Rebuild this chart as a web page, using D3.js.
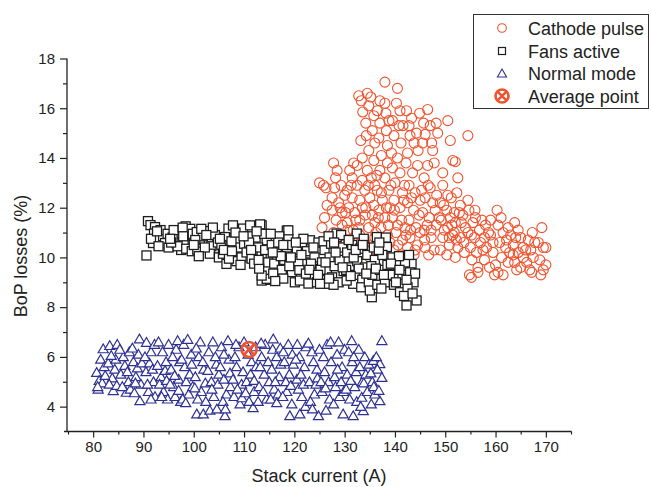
<!DOCTYPE html>
<html>
<head>
<meta charset="utf-8">
<script src="https://cdn.jsdelivr.net/npm/d3@7"></script>
<style>
  body { margin: 0; background: #fff; }
  text { font-family: "Liberation Sans", Arial, sans-serif; fill: #222; }
</style>
</head>
<body>
<svg id="chart" width="651" height="487"></svg>
<script>

// Cathode pulse (x = stack current A, y = BoP losses %)
var cathodePulse = [
  [125,13.0],[125.8,12.9],[126.3,12.8],[125.5,11.2],[126,11.6],[126.5,12.1],[125.3,10.6],
  [127.8,13.8],[128.5,13.5],[128.2,13.2],[129.3,12.9],[127.5,12.4],[128.8,12.2],[127.5,11.9],[128.3,11.5],
  [129.5,11.8],[127.8,11.0],[129,10.9],[129.5,11.3],[128.5,10.5],[130,12.5],[129.8,10.2],
  [131,13.5],[131.5,13.2],[132.5,13.7],[130.5,12.7],[131.5,12.4],[132.5,12.9],[130.8,12.0],[132,11.8],
  [133,12.3],[130.5,11.4],[131.7,11.1],[133,11.5],[131,10.7],[132.3,10.4],[133,10.9],[133.2,14.7],
  [132.8,16.5],[133.3,16.3],[133.6,15.85],[133.5,14.0],
  [134.5,16.6],[134.8,16.1],[135.2,16.45],[134.2,15.4],[135.5,15.1],[134.3,14.9],[135.8,15.7],[134.5,13.5],
  [135.3,13.2],[135.8,13.9],[134,12.7],[135,12.4],[136,12.9],[134.2,12.0],[135.5,11.7],[134.8,11.2],
  [136,11.4],[134,10.6],[135.5,10.3],[136,10.8],[135,10.0],
  [137,16.3],[136.5,15.9],[138,16.2],[138.2,15.8],[137,15.4],[138.3,15.1],[136.8,14.8],[138.5,14.5],
  [137.3,14.1],[138.5,13.8],[137,13.5],[138,13.2],[136.5,12.7],[137.5,12.3],[138.8,12.7],[136.8,11.9],
  [138,11.6],[139,12.0],[137.2,11.2],[138.5,10.9],[136.5,10.6],[137.8,10.3],[139,10.6],[138.7,11.3],[138,17.05],
  [140.5,16.8],[140.3,16.2],[141,15.9],[139.5,15.5],[140.8,15.3],[139.8,14.9],[141.2,14.6],[140.5,14.0],
  [139.5,13.6],[141,13.4],[140,13.0],[141.5,12.6],[139.8,12.3],[141,12.0],[139.5,11.6],[141.3,11.5],
  [140.2,11.0],[141.5,10.7],[139.8,10.3],[141,10.1],[142,11.2],
  [142.3,15.9],[142.8,15.3],[143,14.9],[143.8,14.6],[144.3,15.0],[142.5,14.2],[143.5,13.4],[144.5,13.7],
  [142.8,12.9],[144,12.6],[142.5,12.2],[143.7,11.9],[145,12.3],[142.8,11.5],[144.2,11.2],[143,10.8],
  [144.5,10.5],[142.5,10.4],[145,11.0],[143.8,10.1],
  [146.5,15.95],[147,15.3],[146,14.95],[147.3,14.6],[145.5,14.6],[147.5,14.3],[146.5,13.7],[147.8,13.8],
  [145.8,13.2],[147,12.8],[146,12.4],[147.5,12.2],[145.5,11.8],[146.8,11.6],[148,11.9],[145.8,11.1],
  [147.2,10.8],[146,10.4],[147.8,10.3],[148.2,11.3],[148.5,15.0],[148.2,15.4],
  [149.5,13.4],[150.5,15.5],[151,14.7],[149.5,12.9],[150.5,12.5],[149,12.2],[150.3,11.9],[151.2,12.4],
  [149.2,11.5],[150.5,11.2],[151,11.6],[149.5,10.8],[150.8,10.5],[149,10.3],[150.3,10.1],[151.5,10.9],
  [151.5,13.9],[152,13.85],[152.5,13.2],[152.8,11.8],[152,11.4],[153.5,11.7],[151.8,11.0],[153,10.8],
  [154,11.2],[152.5,10.4],[153.8,10.2],[152,10.0],[154.5,12.3],[153,12.1],[154.5,14.9],
  [154.7,11.9],[155.5,11.4],[156,11.6],[154.5,11.0],[155.8,10.8],[156.8,11.1],[155,10.4],[156.2,10.2],
  [155.3,9.9],[154.8,9.3],[155.2,9.2],[156.5,9.6],[157,10.6],[157.3,11.5],[156.5,9.4],
  [158,11.3],[159,11.5],[157.8,10.8],[159,10.9],[158.2,10.4],[159.5,10.2],[157.8,9.9],[158.8,9.6],
  [159.8,9.3],[160,9.7],[160.3,11.9],[159.5,10.6],
  [160.5,11.3],[161.5,11.0],[162.5,11.2],[160.8,10.6],[162,10.4],[161.2,10.0],[162.5,9.8],[160.5,9.4],
  [161.5,9.3],[163,10.9],[162.8,10.2],
  [163.8,11.4],[164.5,11.1],[165,10.8],[163.5,10.5],[164.5,10.2],[165.5,10.4],[163.8,9.8],[165,9.6],
  [164.2,9.5],[165.5,10.0],[163.5,10.1],
  [166.5,10.7],[167,10.3],[166.2,9.8],[167.5,10.0],[166.8,9.5],[167.8,10.6],[167.2,9.4],
  [169.2,11.2],[168.5,10.6],[169.5,10.4],[170,9.7],[169,9.3],[169.5,9.5],[168.8,9.9],[170,10.4],
  [130.2,11.8],[131.3,12.9],[132.2,11.5],[133.5,12.0],[134.7,12.9],[135.8,12.1],[136.2,11.0],[137.3,12.6],
  [138.3,12.0],[139.2,12.9],[140.5,11.3],[141.8,12.3],[142.2,10.9],[143.3,12.4],[144.8,11.7],[145.3,12.7],
  [146.4,11.3],[147.2,11.1],[148.3,12.5],[149.8,11.1],[150.8,10.8],[151.3,11.3],[152.3,12.6],[153.2,11.4],
  [146.7,10.1],[144,10.3],[140.6,10.5],[137.3,10.5],[134.4,10.3],[131.4,10.2],[129.2,10.5],[128,12.8],
  [131.8,13.8],[133.5,13.1],[136.4,13.3],[139.3,14.2],[142.2,13.8],[144.6,14.3],[134.8,14.3],[136,14.6],
  [138.8,15.5],[141.6,15.3],[143.3,15.6],[144.9,15.8],[145.7,15.4],
  [132.8,11.2],[134.1,11.7],[136.7,11.6],[139.9,11.9],[143.1,11.1],[145.9,10.7],[148.8,11.6],[151.8,11.8],
  [153.7,10.6],[155.9,11.9],[157.5,10.3],[158.6,11.0],[161.1,11.6],[162.2,10.7],[164,10.8],[166,10.3],
  [167.3,11.0],[130.6,11.1],[129.1,12.0],[141.9,12.9],[146.6,12.9],[149.7,12.1],[152.2,10.7],[155.2,10.9]
];

// Fans active
var fansActive = [
  [90.6,10.08],[90.9,11.46],[91.4,11.3],[92.3,11.22],[92.1,10.96],[91.9,10.58],[92.8,10.75],[93.9,10.85],
  [94.3,10.58],[93.4,11.1],[94.8,10.95],[95,10.4],[91.5,10.75],[93,10.45],
  [96.6,10.58],[97.2,10.98],[98.4,11.25],[98.9,10.82],[95.8,10.8],[96,11.1],[97.5,10.3],[99.5,10.55],
  [99.3,11.15],[98,10.65],[96.8,10.45],[99.8,10.95],[97.8,11.2],[95.5,10.6],[98.5,10.35],[99.6,10.25],
  [100.6,11.02],[100.7,10.31],[102.6,11.06],[102.9,10.72],[104.5,10.35],[101.2,10.6],[101.8,10.85],[103.5,10.45],
  [104.2,10.9],[100.3,10.7],[101.5,11.15],[103.2,10.15],[102.2,10.4],[104.8,10.6],[103.8,11.2],[105,10.0],[101,10.05],
  [106.5,10.82],[106.9,11.16],[108.8,10.71],[109.8,11.16],[106.2,10.82],[107.8,11.29],[106.5,9.74],[105.5,10.5],
  [107.2,10.35],[108,10.0],[109,10.4],[107.5,10.65],[108.5,9.85],[109.5,10.0],[105.8,10.15],[107,9.95],
  [110,10.55],[106,10.3],[108.3,11.0],[109.3,9.7],
  [111.2,11.29],[113.5,11.29],[111.8,10.55],[114.5,10.69],[113.5,10.15],[113.5,9.07],[115.2,9.1],[113.2,11.33],
  [114.5,9.14],[113.5,9.27],[110.5,10.2],[111.5,9.95],[112.3,10.8],[112.8,10.4],[114,10.95],[110.8,10.85],
  [112,9.75],[114.8,9.8],[113,9.55],[111,10.6],[112.5,11.05],[114.2,10.3],
  [118.5,11.08],[118.8,10.75],[119.8,10.15],[119.5,9.41],[118.8,11.09],[120.1,9.0],[115.5,10.5],[116.5,10.2],
  [117,10.85],[116,9.75],[117.5,9.5],[118,9.9],[115.8,9.35],[117.8,9.15],[116.8,10.6],[119,9.65],
  [115.3,10.95],[116.2,9.05],[118.5,10.4],[117.3,10.05],[119.5,10.5],
  [121.1,9.07],[123.1,10.69],[124.4,9.54],[120.5,10.3],[121.5,10.6],[122,9.8],[122.5,10.25],[123.5,9.3],
  [124,10.0],[121,9.5],[122.8,8.95],[124.8,10.6],[120.8,9.85],[123.8,10.4],[121.8,10.75],[122.3,9.35],
  [124.5,9.0],[120.3,10.6],[123.3,9.75],
  [126.4,8.94],[128.4,10.82],[125.1,8.94],[128.4,10.96],[125.5,9.8],[126,10.3],[126.5,9.45],[127,10.0],
  [127.5,9.2],[128,9.65],[129,9.9],[129.5,10.4],[128.8,9.0],[125.8,10.65],[127.3,10.55],[129.8,9.45],
  [126.8,10.85],[128.2,10.2],[125.2,9.5],[127.8,8.9],[129.3,10.9],
  [131.7,8.94],[130.4,9.07],[132.4,10.96],[130.5,10.2],[131,9.6],[131.5,10.5],[132,9.3],[132.5,9.85],
  [133,10.35],[133.5,9.1],[134,9.6],[134.5,10.1],[130.8,10.7],[133.3,8.8],[134.8,9.0],[131.8,10.0],
  [133.8,10.75],[130.3,9.5],[132.8,9.55],
  [135.4,8.4],[135,8.67],[136.4,10.82],[138.4,10.42],[135.5,9.3],[136,9.9],[136.5,8.9],[137,9.5],
  [137.5,10.1],[138,9.0],[138.5,9.7],[139,9.3],[139.5,10.0],[135.8,10.4],[137.3,8.75],[136.8,10.3],
  [139.8,8.9],[138.2,10.8],[135.3,9.65],
  [143.3,9.74],[143.7,9.0],[144.3,8.27],[142.3,8.07],[141,8.6],[140.5,9.7],[141.5,9.3],[142,9.8],
  [142.5,8.8],[143,9.4],[140.2,9.0],[144,9.35],[141.8,8.45],[143.5,8.55],[140.8,10.05],[142.8,10.1],
  [92.7,11.05],[95.3,10.75],[97.9,10.85],[100,10.5],[102.5,10.9],[105.2,10.75],[107.6,10.25],[109.9,10.85],
  [111.4,10.3],[112.9,9.9],[115.7,10.2],[117.8,10.5],[119.3,10.0],[121.4,10.1],[123,9.5],[124.7,9.3],
  [126.2,9.8],[127.9,10.6],[129.6,9.6],[131.2,9.25],[132.2,10.3],[134.3,9.35],[136.2,9.55],[137.8,9.3],
  [139.2,9.75],[140.9,9.5],[142.3,9.1],[136.9,10.6],[133.6,10.5],[126.9,9.15]
];

// Normal mode
var normalMode = [
  [80.7,5.37],[81,4.7],[82,6.32],[81.5,5.9],[81.2,5.05],[82.2,5.6],[81.8,4.95],[80.9,4.8],[82.4,5.25],
  [83.3,6.45],[84.8,6.5],[84,4.64],[83,5.75],[83.8,5.15],[84.5,5.9],[83.2,4.9],[84.3,5.5],[84.7,4.85],[83.6,6.05],
  [86.6,4.57],[85.5,5.3],[86,6.0],[86.3,5.65],[87,5.0],[85.8,4.8],[87.2,6.2],[86.8,5.4],[85.3,6.3],[87.4,4.7],
  [89.2,6.72],[89.3,4.23],[88,5.8],[88.5,5.2],[89,6.1],[89.5,4.9],[88.2,4.55],[88.8,5.55],[87.8,6.35],[89.7,5.75],[88.4,4.95],
  [90.6,6.58],[90.5,5.4],[91,4.6],[91.5,6.2],[92,5.0],[91.2,5.75],[92.3,4.4],[90.8,4.9],[91.8,5.5],[92.2,6.5],[90.3,6.0],[91.5,4.3],
  [93,6.6],[93.5,5.2],[94,4.6],[94.5,5.8],[93.2,4.9],[93.8,6.2],[94.8,4.3],[94.3,5.45],[92.8,5.65],[93.6,4.4],[95,6.5],[94.6,5.05],
  [95.5,5.5],[96,4.8],[96.5,6.3],[97,5.1],[95.8,6.0],[96.3,4.4],[97.2,5.8],[95.3,4.9],[96.8,6.65],[97.4,4.2],[96.2,5.25],[97,4.65],
  [98,6.5],[98.5,5.0],[99,4.5],[99.5,6.1],[98.2,5.6],[99.2,5.3],[97.8,4.3],[98.8,6.7],[99.8,4.8],[98.4,4.15],[99.6,5.7],[97.6,5.9],
  [100.6,3.7],[101.9,3.7],[100.3,5.2],[101,6.0],[101.5,4.6],[102,5.5],[100.8,4.3],[101.3,6.6],[102.3,4.95],[100.5,6.35],[101.8,5.8],[102.4,4.2],[100.2,4.75],
  [103,6.2],[103.5,5.0],[104,4.4],[104.5,5.7],[103.2,3.85],[103.8,6.6],[104.8,4.9],[102.8,5.45],[104.3,6.0],[103.6,4.7],[105,5.3],[104.6,3.9],
  [106.2,3.63],[105.5,6.4],[106,5.1],[106.5,4.5],[107,5.9],[105.8,4.2],[106.8,6.65],[107.3,4.8],[105.3,5.6],[106.3,3.9],[107.2,5.35],[106,6.1],
  [108,4.4],[108.5,5.6],[109,6.4],[109.5,4.9],[108.2,6.0],[109.2,4.1],[107.8,5.1],[109.8,5.4],[108.7,4.7],[110,6.6],[108.4,6.5],[109.6,4.35],
  [110.5,5.0],[111,4.2],[111.5,5.8],[112,4.6],[110.8,6.1],[112.3,6.4],[111.3,5.3],[110.3,4.55],[112,5.05],[111.8,3.95],[112.4,5.6],
  [113,4.8],[113.5,6.0],[114,5.3],[114.5,4.3],[113.2,5.6],[114.2,6.5],[112.8,4.2],[114.8,5.8],[113.8,4.6],[115,5.0],[113.4,6.55],
  [115.8,6.72],[115.5,5.5],[116,4.7],[116.5,6.0],[117,5.2],[115.3,4.3],[116.8,4.5],[117.3,5.7],[116.2,5.0],[115.7,6.3],[117.2,6.35],[116.5,4.15],
  [119.1,3.63],[118,5.8],[118.5,4.6],[119,5.3],[119.5,4.1],[117.8,6.2],[118.8,6.5],[119.8,5.7],[118.3,5.0],[119.3,4.85],[117.7,4.4],[119.6,6.1],
  [121.1,3.7],[120.5,5.1],[121,6.0],[121.5,4.4],[122,5.6],[120.8,4.7],[122.3,6.4],[121.3,5.3],[120.3,5.9],[122.2,4.0],[121.8,4.9],[120.6,6.5],
  [124.8,3.63],[123,5.0],[123.5,6.2],[124,4.5],[124.5,5.5],[123.2,4.2],[123.8,5.8],[122.8,6.55],[124.3,4.9],[123.6,3.9],[125,6.3],[124.6,5.15],
  [125.5,4.6],[126,5.4],[126.5,6.5],[127,4.3],[125.8,6.0],[126.8,5.0],[127.3,5.8],[125.3,5.0],[126.3,3.85],[127.2,6.6],[126.2,4.75],
  [129.7,3.7],[128,5.2],[128.5,6.1],[129,4.4],[129.5,5.6],[128.2,4.8],[128.8,6.6],[129.3,5.0],[127.8,4.1],[130,6.3],[128.6,5.5],[129.8,4.6],
  [131.7,3.63],[131.4,6.65],[130.5,5.3],[131,4.3],[131.5,5.8],[132,4.8],[130.8,6.2],[132.3,5.4],[130.3,4.7],[131.8,6.0],[132.4,4.2],[131.2,5.05],
  [133.4,4.37],[133.7,3.83],[133,5.6],[133.5,5.0],[134,6.0],[134.5,4.6],[132.8,6.3],[134.2,5.3],[133.2,4.0],[134.8,5.7],[133.8,4.95],
  [135.7,5.85],[137,5.72],[137.4,5.17],[137,4.23],[137.4,6.65],[135.5,5.0],[136,4.5],[136.5,5.5],[135.3,4.1],[136.3,6.0],[135.8,4.8],[136.8,4.65],[135.2,5.35]
];

var averagePoint = [[111, 6.3]];

var xMajor = [80, 90, 100, 110, 120, 130, 140, 150, 160, 170];
var xMinor = [75, 85, 95, 105, 115, 125, 135, 145, 155, 165, 175];
var yMajor = [4, 6, 8, 10, 12, 14, 16, 18];
var yMinor = [5, 7, 9, 11, 13, 15, 17];

var legendNames = ["Cathode pulse", "Fans active", "Normal mode", "Average point"];

var orange = "#ef5430", navy = "#2e3192", black = "#1e1e1e";

var svg = d3.select("#chart");

var x = d3.scaleLinear().domain([75, 175]).range([68, 571]);
var y = d3.scaleLinear().domain([3, 18]).range([431.5, 58.5]);

// axes
var gx = svg.append("g").attr("transform", "translate(0,431.5)");
gx.call(d3.axisBottom(x).tickValues(xMajor).tickSize(6).tickPadding(4).tickFormat(d3.format("d")));
gx.append("g").call(d3.axisBottom(x).tickValues(xMinor).tickSize(3).tickFormat(""));
gx.selectAll(".domain").remove();
gx.append("line").attr("x1", 64).attr("x2", 571.5).attr("stroke", "#222").attr("stroke-width", 1.3);

var gy = svg.append("g").attr("transform", "translate(67,0)");
gy.call(d3.axisLeft(y).tickValues(yMajor).tickSize(7).tickPadding(5).tickFormat(d3.format("d")));
gy.append("g").call(d3.axisLeft(y).tickValues(yMinor).tickSize(4).tickFormat(""));
gy.selectAll(".domain").remove();
gy.append("line").attr("y1", y(18)).attr("y2", 432).attr("stroke", "#222").attr("stroke-width", 1.3);

svg.selectAll(".tick line").attr("stroke", "#222").attr("stroke-width", 1.2);
svg.selectAll(".tick text")
  .style("font-family", "'Liberation Sans', Arial, sans-serif")
  .style("font-size", "15px").attr("fill", "#222");

svg.append("text").attr("x", 319).attr("y", 482).attr("text-anchor", "middle")
  .style("font-size", "18px").text("Stack current (A)");
svg.append("text").attr("transform", "translate(27,256) rotate(-90)").attr("text-anchor", "middle")
  .style("font-size", "18px").text("BoP losses (%)");

// markers
var tri = d3.symbol().type(d3.symbolTriangle).size(44);

svg.append("g").selectAll("circle").data(cathodePulse).enter().append("circle")
  .attr("cx", function(d) { return x(d[0]); })
  .attr("cy", function(d) { return y(d[1]); })
  .attr("r", 5).attr("fill", "none").attr("stroke", orange).attr("stroke-width", 1.1);

svg.append("g").selectAll("rect").data(fansActive).enter().append("rect")
  .attr("x", function(d) { return x(d[0]) - 4.5; })
  .attr("y", function(d) { return y(d[1]) - 4.5; })
  .attr("width", 9).attr("height", 9)
  .attr("fill", "#fff").attr("stroke", black).attr("stroke-width", 1.3);

svg.append("g").selectAll("path").data(normalMode).enter().append("path")
  .attr("d", tri)
  .attr("transform", function(d) { return "translate(" + x(d[0]) + "," + (y(d[1]) + 0.9) + ")"; })
  .attr("fill", "#fff").attr("stroke", navy).attr("stroke-width", 1.2);

function drawAverage(g, cx, cy, r) {
  g.append("circle").attr("cx", cx).attr("cy", cy).attr("r", r)
    .attr("fill", "none").attr("stroke", orange).attr("stroke-width", 2.6);
  var k = r * 0.72;
  g.append("path").attr("d", "M" + (cx - k) + "," + (cy - k) + "L" + (cx + k) + "," + (cy + k) +
      "M" + (cx - k) + "," + (cy + k) + "L" + (cx + k) + "," + (cy - k))
    .attr("stroke", orange).attr("stroke-width", 2.6);
}
averagePoint.forEach(function(d) { drawAverage(svg, x(d[0]), y(d[1]), 7.5); });

// legend
var lg = svg.append("g");
lg.append("rect").attr("x", 473.5).attr("y", 14.5).attr("width", 175).attr("height", 94)
  .attr("fill", "#fff").attr("stroke", "#333").attr("stroke-width", 1);
var rowY = [28, 51, 73.5, 96];
lg.append("circle").attr("cx", 502).attr("cy", rowY[0]).attr("r", 4.3)
  .attr("fill", "none").attr("stroke", orange).attr("stroke-width", 1.1);
lg.append("rect").attr("x", 498.5).attr("y", rowY[1] - 3.5).attr("width", 7).attr("height", 7)
  .attr("fill", "#fff").attr("stroke", black).attr("stroke-width", 1.2);
lg.append("path").attr("d", d3.symbol().type(d3.symbolTriangle).size(36))
  .attr("transform", "translate(502," + (rowY[2] + 0.8) + ")")
  .attr("fill", "#fff").attr("stroke", navy).attr("stroke-width", 1.1);
drawAverage(lg, 502, rowY[3], 6.5);
lg.selectAll(".lt").data(legendNames).enter().append("text")
  .attr("x", 528).attr("y", function(d, i) { return rowY[i] + 6.5; })
  .style("font-size", "18px").text(function(d) { return d; });

</script>
</body>
</html>
